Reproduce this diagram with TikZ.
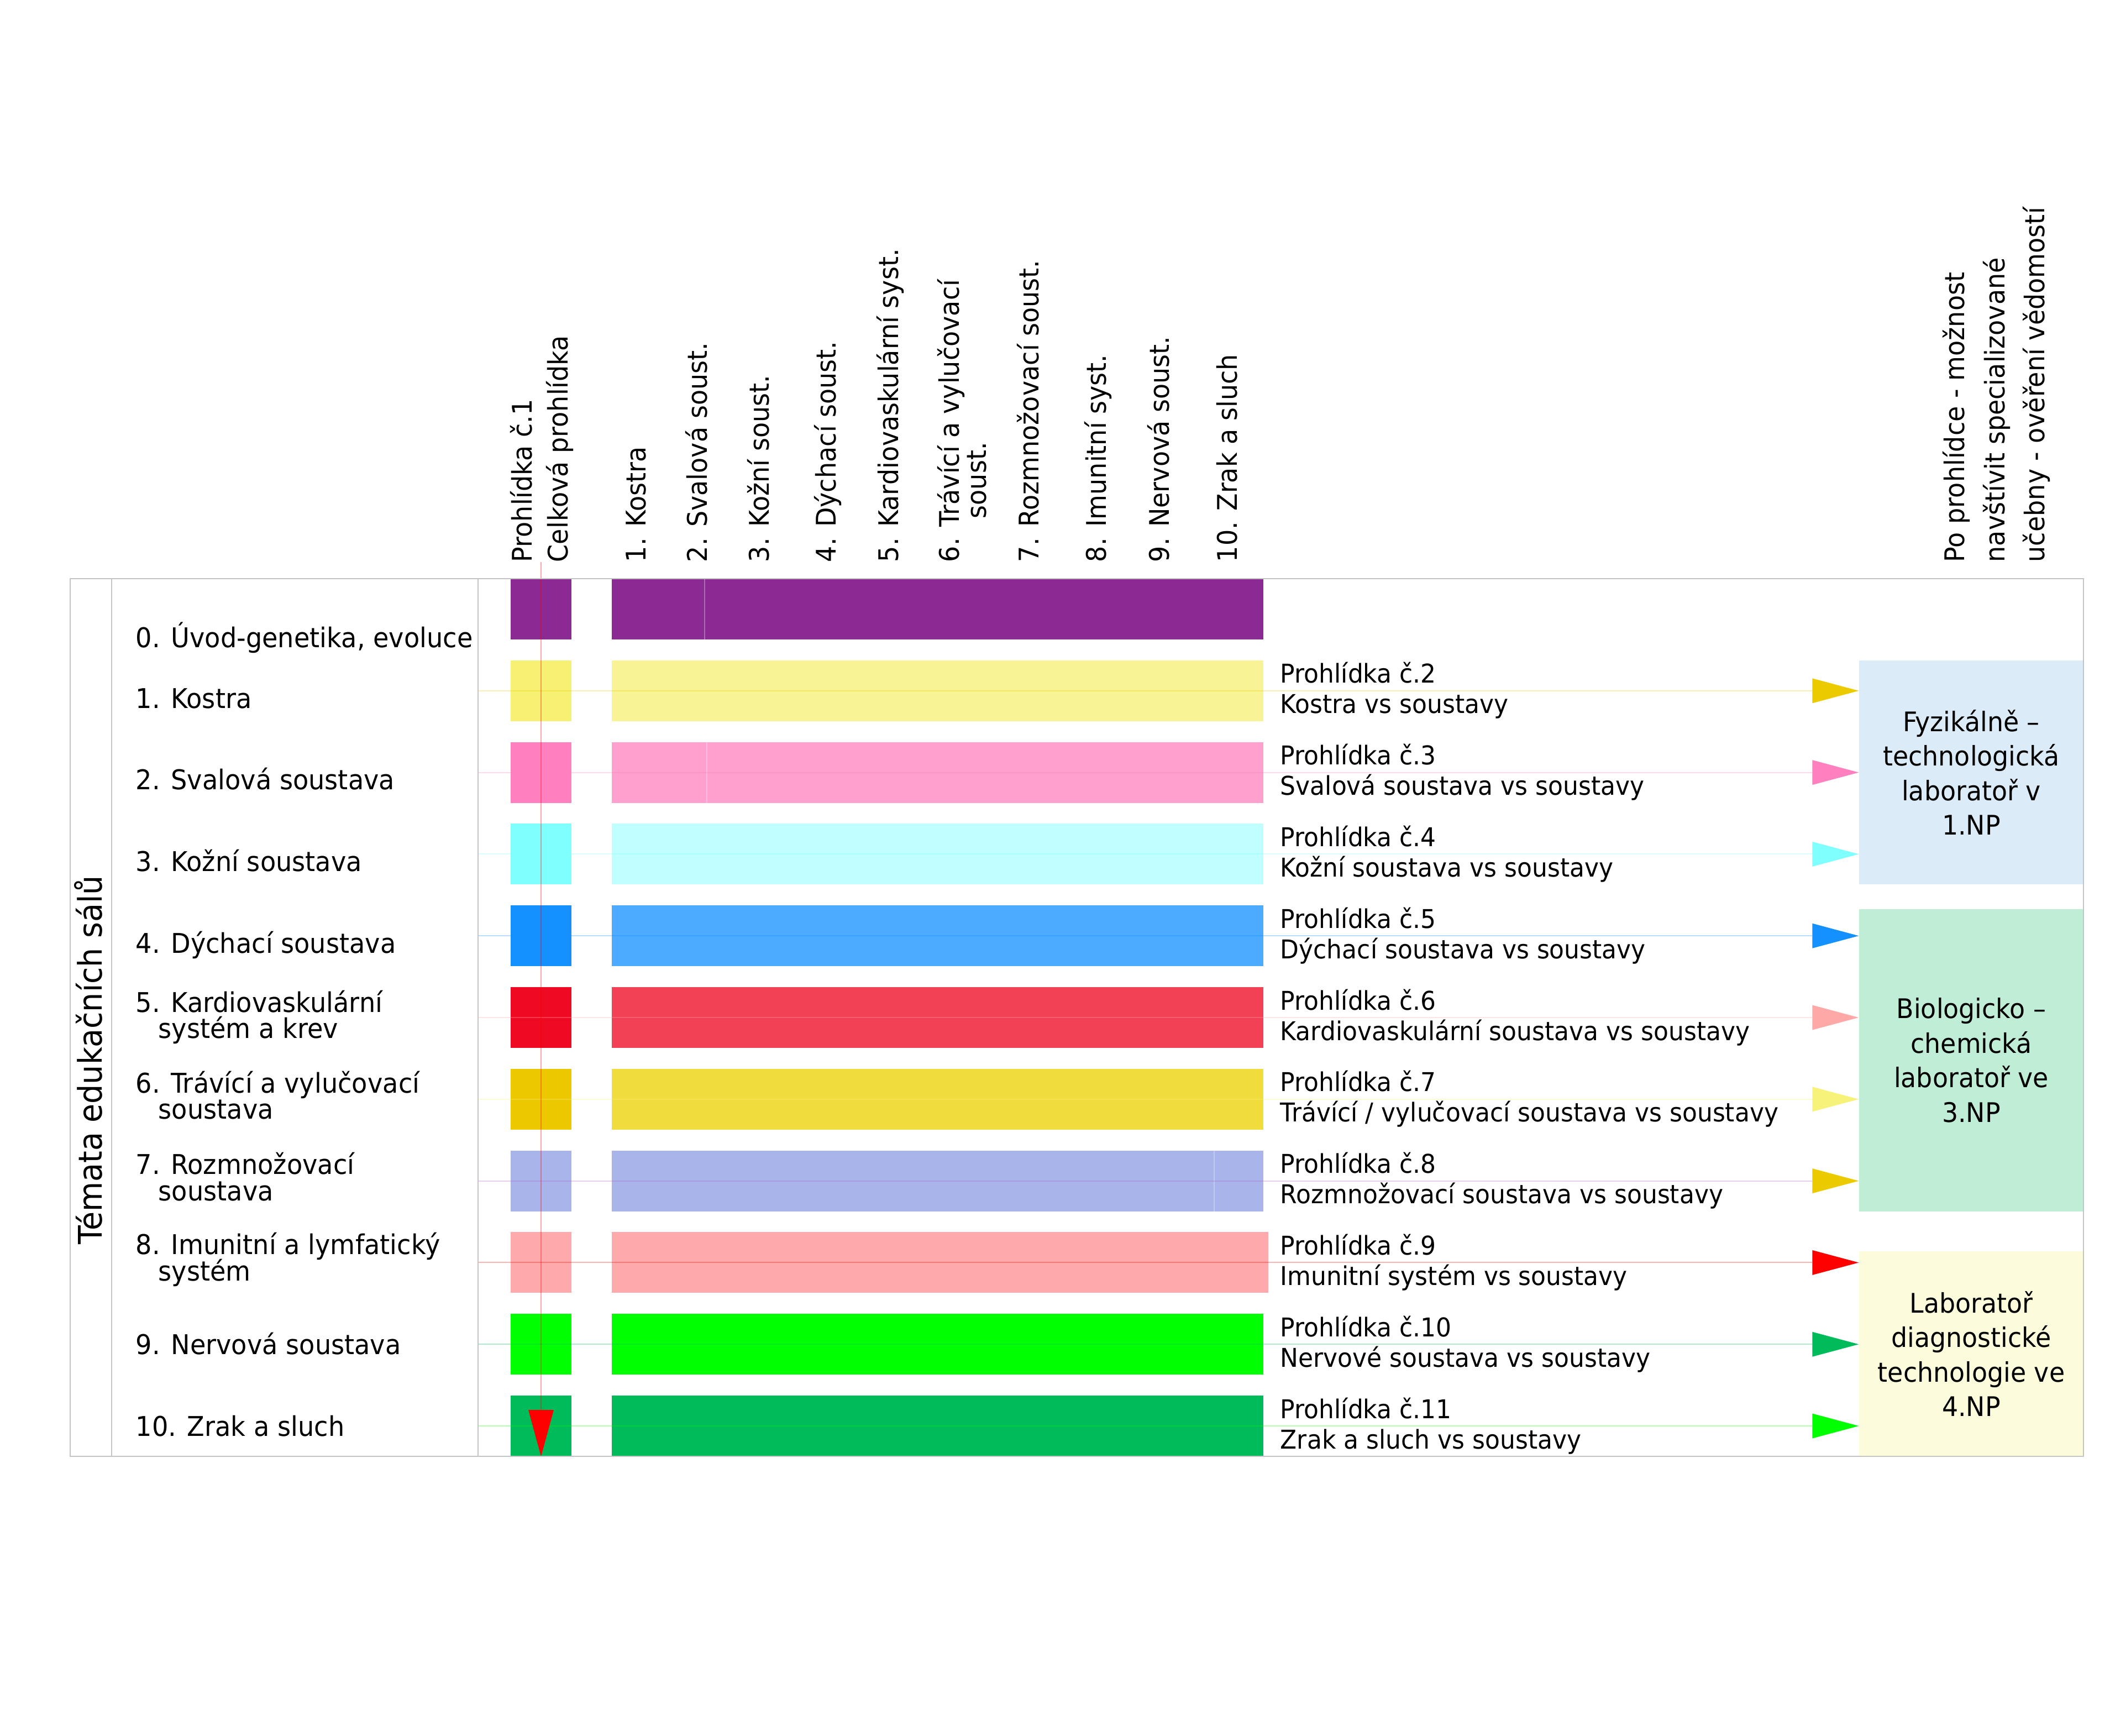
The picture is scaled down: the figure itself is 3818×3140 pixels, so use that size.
\documentclass[tikz,border=0pt]{standalone}
\usepackage{fontspec}
\setmainfont{DejaVu Sans}[FakeStretch=0.94]
\usepackage{tikz}
\usetikzlibrary{arrows.meta}

\definecolor{gridgrey}{HTML}{C4C4C4}
\definecolor{evo}{HTML}{8B2A93}
\definecolor{kostA}{HTML}{F6F172}
\definecolor{kostB}{HTML}{F8F496}
\definecolor{svalA}{HTML}{FF80BF}
\definecolor{svalB}{HTML}{FFA0CF}
\definecolor{kozA}{HTML}{80FFFF}
\definecolor{kozB}{HTML}{C0FFFF}
\definecolor{dychA}{HTML}{1490FF}
\definecolor{dychB}{HTML}{4DABFF}
\definecolor{kardA}{HTML}{EE0A22}
\definecolor{kardB}{HTML}{F24155}
\definecolor{travA}{HTML}{EBC800}
\definecolor{travB}{HTML}{F0DC3C}
\definecolor{rozm}{HTML}{A8B4EA}
\definecolor{imun}{HTML}{FEA9AB}
\definecolor{nerv}{HTML}{00FF00}
\definecolor{zrak}{HTML}{00BB5A}
\definecolor{tipgold}{HTML}{EBCB00}
\definecolor{tipsalmon}{HTML}{FFA8A8}
\definecolor{tipyellow}{HTML}{F6F27A}
\definecolor{tipred}{HTML}{FF0000}
\definecolor{orchid}{HTML}{B060C8}
\definecolor{fyz}{HTML}{DBEBF8}
\definecolor{bio}{HTML}{BFEDD6}
\definecolor{diag}{HTML}{FCFCDD}

\tikzset{
  rule/.style={draw=gridgrey, line width=0.5pt},
  seam/.style={draw=white, draw opacity=0.3, line width=0.3pt},
  hdr/.style={rotate=90, anchor=base west, inner sep=0pt, font=\fontsize{12.25}{14}\selectfont},
  topic/.style={anchor=base west, inner sep=0pt, font=\fontsize{12.3}{14}\selectfont},
  lbl/.style={anchor=base west, inner sep=0pt, font=\fontsize{11.7}{13}\selectfont},
  sidetitle/.style={rotate=90, anchor=base west, inner sep=0pt, font=\fontsize{14.75}{17}\selectfont},
  labbox/.style={align=center, inner sep=0pt, minimum width=101.5pt, font=\fontsize{12.2}{15.6}\selectfont},
  link/.style 2 args={draw=#1, draw opacity=0.3, line width=0.5pt,
    -{Triangle[length=21pt, width=11.25pt, fill=#2, line width=0pt]}}
}

\begin{document}
\begin{tikzpicture}[x=0.25pt, y=-0.25pt]
  \useasboundingbox (0,0) rectangle (3818,3140);

  % colour blocks of the rows
  \foreach \i/\cs/\cb/\xe in {0/evo/evo/2286, 1/kostA/kostB/2286, 2/svalA/svalB/2286,
      3/kozA/kozB/2286, 4/dychA/dychB/2286, 5/kardA/kardB/2286, 6/travA/travB/2286,
      7/rozm/rozm/2286, 8/imun/imun/2295, 9/nerv/nerv/2286, 10/zrak/zrak/2286} {
    \fill[\cs] (924,{1047+147.8*\i}) rectangle (1034,{1157+147.8*\i});
    \fill[\cb] (1107,{1047+147.8*\i}) rectangle (\xe,{1157+147.8*\i});
  }
  \draw[seam] (1275,1047) -- (1275,1157);
  \draw[seam] (1279,1343) -- (1279,1453);
  \draw[seam] (2197,2082) -- (2197,2192);

  % laboratories
  \node[labbox, fill=fyz, minimum height=101.25pt] (lab1) at (3567,1397.5)
    {Fyzikálně –\\technologická\\laboratoř v\\1.NP};
  \node[labbox, fill=bio, minimum height=136.6pt] (lab2) at (3567,1918.3)
    {Biologicko –\\chemická\\laboratoř ve\\3.NP};
  \node[labbox, fill=diag, minimum height=92.75pt] (lab3) at (3567,2449.5)
    {Laboratoř\\diagnostické\\technologie ve\\4.NP};

  % tours to the laboratories
  \foreach \i/\b/\lc/\tc in {1/1/tipgold/tipgold, 2/1/svalA/svalA, 3/1/kozA/kozA,
      4/2/dychA/dychA, 5/2/tipsalmon/tipsalmon, 6/2/tipyellow/tipyellow,
      7/2/orchid/tipgold, 8/3/tipred/tipred, 9/3/zrak/zrak, 10/3/nerv/nerv} {
    \coordinate (s\i) at (865,{1102+147.8*\i});
    \draw[link={\lc}{\tc}] (s\i) -- (s\i -| lab\b.west);
  }

  % tour 1 through all rooms
  \coordinate (tourtop) at (979,1017);
  \coordinate (tourend) at (979,2635);
  \draw[draw=tipred, draw opacity=0.35, line width=0.4pt,
    -{Triangle[length=21pt, width=11.5pt, fill=tipred, line width=0pt]}] (tourtop) -- (tourend);

  % table rules
  \draw[rule] (127,1047) rectangle (3770,2635);
  \draw[rule] (202,1047) -- (202,2635);
  \draw[rule] (865,1047) -- (865,2635);

  % column headers
  \node[hdr] (h0a) at (962,1018) {Prohlídka č.1};
  \node[hdr] (h0b) at (1027,1018) {Celková prohlídka};
  \node[hdr] (h1) at (1168,1018) {1. Kostra};
  \node[hdr] (h2) at (1279,1018) {2. Svalová soust.};
  \node[hdr] (h3) at (1391,1018) {3. Kožní soust.};
  \node[hdr] (h4) at (1512,1018) {4. Dýchací soust.};
  \node[hdr] (h5) at (1625,1018) {5. Kardiovaskulární syst.};
  \node[hdr] (h6a) at (1735,1018) {6. Trávící a vylučovací};
  \node[hdr] (h6b) at (1784,939) {soust.};
  \node[hdr] (h7) at (1879,1018) {7. Rozmnožovací soust.};
  \node[hdr] (h8) at (2001,1018) {8. Imunitní syst.};
  \node[hdr] (h9) at (2115,1018) {9. Nervová soust.};
  \node[hdr] (h10) at (2238,1018) {10. Zrak a sluch};
  \node[hdr] (ha) at (3554,1018) {Po prohlídce - možnost};
  \node[hdr] (hb) at (3627,1018) {navštívit specializované};
  \node[hdr] (hc) at (3699,1018) {učebny - ověření vědomostí};

  % topics of the rooms
  \node[sidetitle] (title) at (184,2252) {Témata edukačních sálů};
  \node[topic] (t0) at (245,1171) {0. Úvod-genetika, evoluce};
  \node[topic] (t1) at (245,1281) {1. Kostra};
  \node[topic] (t2) at (245,1428) {2. Svalová soustava};
  \node[topic] (t3) at (245,1576) {3. Kožní soustava};
  \node[topic] (t4) at (245,1724) {4. Dýchací soustava};
  \node[topic] (t5a) at (245,1831) {5. Kardiovaskulární};
  \node[topic] (t5b) at (286,1878) {systém a krev};
  \node[topic] (t6a) at (245,1977) {6. Trávící a vylučovací};
  \node[topic] (t6b) at (286,2024) {soustava};
  \node[topic] (t7a) at (245,2124) {7. Rozmnožovací};
  \node[topic] (t7b) at (286,2172) {soustava};
  \node[topic] (t8a) at (245,2269) {8. Imunitní a lymfatický};
  \node[topic] (t8b) at (286,2317) {systém};
  \node[topic] (t9) at (245,2450) {9. Nervová soustava};
  \node[topic] (t10) at (245,2598) {10. Zrak a sluch};

  % tour labels
  \foreach \i/\t in {1/{Kostra vs soustavy}, 2/{Svalová soustava vs soustavy},
      3/{Kožní soustava vs soustavy}, 4/{Dýchací soustava vs soustavy},
      5/{Kardiovaskulární soustava vs soustavy}, 6/{Trávící / vylučovací soustava vs soustavy},
      7/{Rozmnožovací soustava vs soustavy}, 8/{Imunitní systém vs soustavy},
      9/{Nervové soustava vs soustavy}, 10/{Zrak a sluch vs soustavy}} {
    \pgfmathtruncatemacro\nr{\i+1}
    \node[lbl] (p\i) at (2316,{1088+147.8*\i}) {Prohlídka č.\nr};
    \node[lbl] (q\i) at (2316,{1143+147.8*\i}) {\t};
  }
\end{tikzpicture}
\end{document}
